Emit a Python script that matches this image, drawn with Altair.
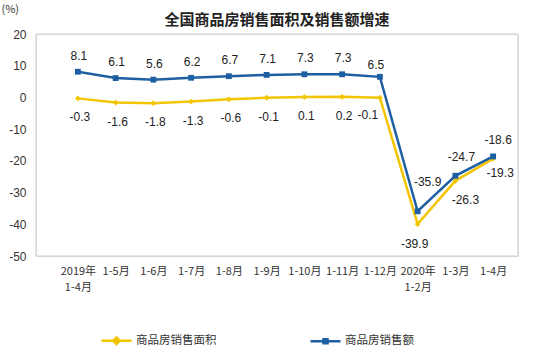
import altair as alt
import pandas as pd

categories = ["2019年\n1-4月", "1-5月", "1-6月", "1-7月", "1-8月", "1-9月", "1-10月",
              "1-11月", "1-12月", "2020年\n1-2月", "1-3月", "1-4月"]
area_growth = [-0.3, -1.6, -1.8, -1.3, -0.6, -0.1, 0.1, 0.2, -0.1, -39.9, -26.3, -19.3]
sales_growth = [8.1, 6.1, 5.6, 6.2, 6.7, 7.1, 7.3, 7.3, 6.5, -35.9, -24.7, -18.6]
series_names = ["商品房销售面积", "商品房销售额"]
series_colors = ["#F2C500", "#1E5FA3"]
y_ticks = [20, 10, 0, -10, -20, -30, -40, -50]

rows = []
for i, c in enumerate(categories):
    rows.append({"cat": c, "idx": i, "series": series_names[0], "v": area_growth[i],
                 "lbl": f"{area_growth[i]:.1f}"})
    rows.append({"cat": c, "idx": i, "series": series_names[1], "v": sales_growth[i],
                 "lbl": f"{sales_growth[i]:.1f}"})
df = pd.DataFrame(rows)

FONT_CJK = "Noto Sans CJK SC"
FONT_NUM = "Liberation Sans"

x_scale = alt.Scale(type="point", range=[23, 476])
y_scale = alt.Scale(domain=[-50, 20], nice=False, zero=False)

x_axis = alt.Axis(labelExpr="split(datum.label, '\\n')", labelAngle=0,
                  labelFont=FONT_CJK, labelFontSize=11, labelColor="#333333",
                  labelPadding=9, ticks=False, domain=False, labelLineHeight=16,
                  labelOverlap=False)
y_axis = alt.Axis(values=y_ticks, grid=False, ticks=False, domain=False,
                  labelOverlap=False, labelExpr="'' + datum.value",
                  labelFont=FONT_NUM, labelFontSize=12, labelColor="#333333",
                  labelPadding=10, titleAngle=0, titleAlign="left",
                  titleBaseline="middle", titleX=-35, titleY=-25,
                  titleFont=FONT_CJK, titleFontSize=11, titleFontWeight="normal",
                  titleColor="#333333")


def xe():
    return alt.X("cat:N", sort=categories, title=None, scale=x_scale, axis=x_axis)


def ye():
    return alt.Y("v:Q", title="(%)", scale=y_scale, axis=y_axis)


color_scale = alt.Scale(domain=series_names, range=series_colors)

base = alt.Chart(df)

frame = alt.Chart(pd.DataFrame({"a": [0]})).mark_rect(
    fill=None, stroke="#D0D0D0", strokeWidth=1
).encode(x=alt.value(0), x2=alt.value(482), y=alt.value(0), y2=alt.value(222))

lines = base.mark_line(strokeWidth=2.5).encode(
    x=xe(), y=ye(),
    color=alt.Color("series:N", scale=color_scale, legend=None),
    detail="series:N",
)

points = base.mark_point(filled=True, opacity=1, size=34).encode(
    x=xe(), y=ye(),
    color=alt.Color("series:N", scale=color_scale, legend=None),
    shape=alt.Shape("series:N", scale=alt.Scale(domain=series_names, range=["diamond", "square"]),
                    legend=None),
)

legend_paths = [
    "M-1,0H1M0,-0.22L0.22,0L0,0.22L-0.22,0Z",
    "M-1,0H1M-0.14,-0.14H0.14V0.14H-0.14Z",
]
legend_cfg = dict(title=None, orient="none", direction="horizontal",
                  legendX=64, legendY=290, columnPadding=88,
                  symbolSize=900, symbolStrokeWidth=2.4,
                  labelFont=FONT_CJK, labelFontSize=11.5,
                  labelColor="#333333", labelOffset=3)
legend_layer = base.transform_filter("false").mark_point(
    filled=False, opacity=1, strokeWidth=2.4
).encode(
    x=xe(), y=ye(),
    color=alt.Color("series:N", scale=alt.Scale(domain=series_names, range=series_colors),
                    legend=alt.Legend(**legend_cfg)),
    shape=alt.Shape("series:N", scale=alt.Scale(domain=series_names, range=legend_paths),
                    legend=alt.Legend(**legend_cfg)),
)


def label_layer(series, filt, dx, dy):
    return base.transform_filter(
        f"datum.series == '{series}' && ({filt})"
    ).mark_text(font=FONT_NUM, fontSize=12, color="#222222", dx=dx, dy=dy).encode(
        x=xe(), y=ye(),
        text="lbl:N",
    )


labels = [
    label_layer(series_names[1], "datum.idx < 8", 1, -16),
    label_layer(series_names[1], "datum.idx == 8", -4, -12),
    label_layer(series_names[1], "datum.idx == 9", 10, -29),
    label_layer(series_names[1], "datum.idx == 10", 6, -19),
    label_layer(series_names[1], "datum.idx == 11", 5, -16),
    label_layer(series_names[0], "datum.idx < 8", 2, 19),
    label_layer(series_names[0], "datum.idx == 8", -12, 17),
    label_layer(series_names[0], "datum.idx == 9", -3, 20),
    label_layer(series_names[0], "datum.idx == 10", 10, 19),
    label_layer(series_names[0], "datum.idx == 11", 7, 14),
]

chart = alt.layer(frame, lines, points, legend_layer, *labels).resolve_scale(
    shape="independent", color="independent"
).properties(
    width=482, height=222,
    title=alt.TitleParams("全国商品房销售面积及销售额增速", font=FONT_CJK, fontSize=15,
                          fontWeight="bold", color="#222222", anchor="middle", offset=6,
                          dy=31),
    autosize=alt.AutoSizeParams(type="none"),
    padding={"left": 36, "top": 34, "right": 22, "bottom": 95},
).configure_view(stroke=None).configure_axis(labelOverlap=False).configure(background="white")

chart.save("out.html", embed_options={"renderer": "svg", "actions": False})
